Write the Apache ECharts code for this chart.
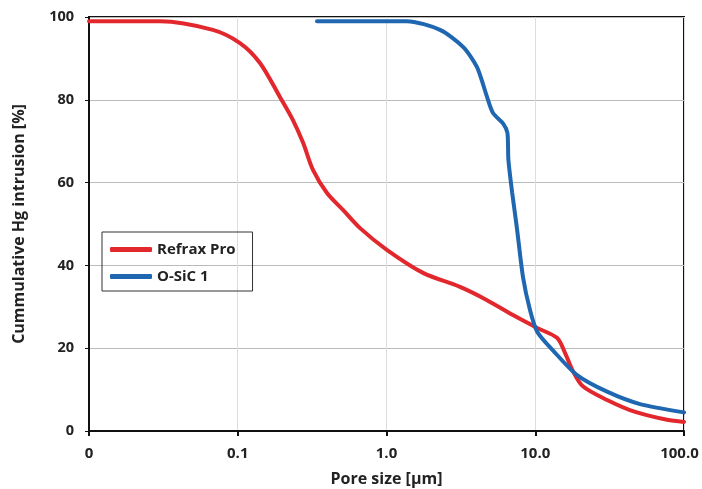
<!DOCTYPE html>
<html>
<head>
<meta charset="utf-8">
<script src="https://cdn.jsdelivr.net/npm/echarts@6/dist/echarts.min.js"></script>
<style>html,body{margin:0;padding:0;background:#fff;overflow:hidden}#c{width:702px;height:489px;display:block}</style>
</head>
<body>
<div id="c"></div>
<script>
const seriesNames = ['Refrax Pro', 'O-SiC 1'];
const refraxX = [0.01, 0.03, 0.068, 0.1035, 0.141, 0.192, 0.235, 0.275, 0.321, 0.398, 0.51, 0.664, 1.01, 1.76, 3.12, 4.74, 7.08, 10.3, 14.0, 15.8, 17.9, 20.9, 30.4, 47, 76.9, 100];
const refraxY = [99, 99, 96.9, 93.7, 88.9, 80.7, 75.1, 69.6, 63, 57.5, 53.4, 49, 43.7, 38.2, 34.8, 31.6, 28.0, 24.9, 22.5, 19, 14.5, 10.8, 7.5, 4.6, 2.7, 2.2];
const osicX = [0.341, 1.37, 2.29, 3.27, 4.06, 4.74, 5.20, 6.1, 6.5, 6.6, 7.0, 7.53, 8.27, 9.22, 10.3, 13.2, 19.1, 30.4, 50.6, 100];
const osicY = [99, 99, 96.9, 92.8, 87.9, 80.7, 76.8, 74.2, 72, 65.5, 57.5, 49, 37.2, 29.2, 24, 19.4, 13.5, 9.5, 6.5, 4.5];
const xTickLabels = {0.01: '0', 0.1: '0.1', 1: '1.0', 10: '10.0', 100: '{r|100.0}'};
const yTicks = [0, 20, 40, 60, 80, 100];

const zip = (xs, ys) => xs.map((x, i) => [x, ys[i]]);
const font = '"Open Sans", "DejaVu Sans", sans-serif';
const chart = echarts.init(document.getElementById('c'));
chart.setOption({
  animation: false,
  textStyle: {fontFamily: font},
  grid: {left: 89, right: 18, top: 17, bottom: 58, outerBoundsMode: 'none', containLabel: false,
    show: true, borderColor: '#111', borderWidth: 2, backgroundColor: 'transparent'},
  legend: {
    orient: 'vertical', left: 102, top: 232, data: seriesNames,
    icon: 'roundRect',
    borderColor: '#333', borderWidth: 1, padding: [10, 17, 7, 8],
    itemWidth: 42, itemHeight: 5, itemGap: 12,
    textStyle: {fontFamily: font, fontWeight: 'bold', fontSize: 15, color: '#222'}
  },
  xAxis: {
    type: 'log', logBase: 10, min: 0.01, max: 100,
    name: 'Pore size [µm]', nameLocation: 'middle', nameGap: 40,
    nameTextStyle: {fontFamily: font, fontWeight: 'bold', fontSize: 16, color: '#222'},
    axisLine: {lineStyle: {color: '#111', width: 2}},
    axisTick: {show: true, inside: false, length: 5, lineStyle: {color: '#111', width: 2}},
    axisLabel: {fontFamily: font, fontWeight: 'bold', fontSize: 15, color: '#222', margin: 15,
      rich: {r: {fontFamily: font, fontWeight: 'bold', fontSize: 15, color: '#222', padding: [0, 9, 0, 0]}},
      formatter: v => { const k = Object.keys(xTickLabels).find(t => Math.abs(Math.log10(+t) - Math.log10(v)) < 1e-6); return k !== undefined ? xTickLabels[k] : ''; }},
    splitLine: {show: true, lineStyle: {color: '#ddd', width: 1}},
    minorTick: {show: false}
  },
  yAxis: {
    type: 'value', min: 0, max: 100, interval: 20,
    name: 'Cummulative Hg intrusion [%]', nameLocation: 'middle', nameGap: 62,
    nameTextStyle: {fontFamily: font, fontWeight: 'bold', fontSize: 16, color: '#222'},
    axisLine: {show: true, lineStyle: {color: '#111', width: 2}},
    axisTick: {show: true, length: 4, lineStyle: {color: '#111'}},
    axisLabel: {fontFamily: font, fontWeight: 'bold', fontSize: 14.5, color: '#222', margin: 15,
      formatter: v => yTicks.includes(v) ? String(v) : ''},
    splitLine: {show: true, lineStyle: {color: '#bbb', width: 1}}
  },
  series: [
    {name: seriesNames[0], type: 'line', data: zip(refraxX, refraxY), symbol: 'none', smooth: 0.3,
      lineStyle: {color: '#e2272d', width: 4, cap: 'round'}, itemStyle: {color: '#e2272d'}},
    {name: seriesNames[1], type: 'line', data: zip(osicX, osicY), symbol: 'none', smooth: 0.25,
      lineStyle: {color: '#1f67b1', width: 4, cap: 'round'}, itemStyle: {color: '#1f67b1'}}
  ]
});
</script>
</body>
</html>
